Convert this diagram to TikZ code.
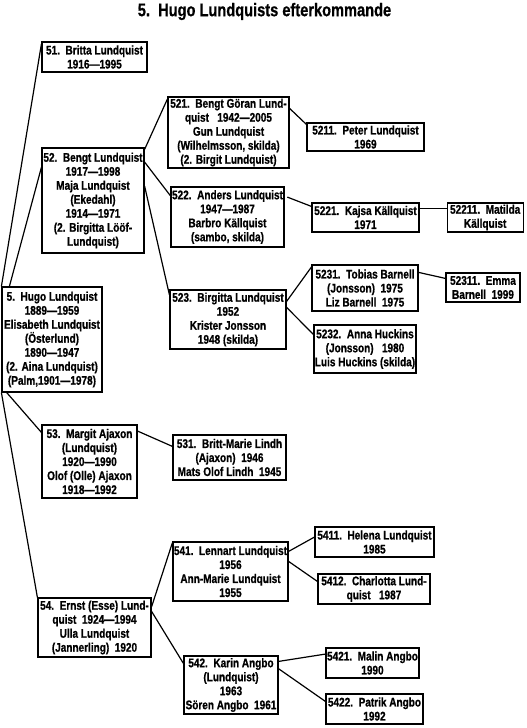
\documentclass[tikz,border=0pt]{standalone}
\usepackage{fontspec}
\setmainfont{Liberation Sans}[FakeStretch=0.8, BoldFeatures={FakeBold=0.8}]
\usepackage{tikz}
\usetikzlibrary{positioning}

\begin{document}
\begin{tikzpicture}[
    x=0.75pt, y=-0.75pt,
    person/.style={rectangle, draw, line width=0.9pt, inner sep=0pt, align=center, font=\bfseries\fontsize{9.4}{10.5}\selectfont},
    boxsize/.style 2 args={minimum width=#1*0.75pt, minimum height=#2*0.75pt},
    link/.style={line width=0.9pt}
]
\useasboundingbox (0,0) rectangle (526,728);

% Title
\node[font=\bfseries\fontsize{13.7}{16}\selectfont] (title) at (264.5,11.5) {5.\ \ Hugo Lundquists efterkommande};

% Hugo and his children
\node[person, boxsize={100}{105}] (p5) at (52,339.5) {5.\ \ Hugo Lundquist\hfill\\1889—1959\\Elisabeth Lundquist\\(Österlund)\\1890—1947\\(2. Aina Lundquist)\hfill\\(Palm,1901—1978)\hfill};
\node[person, boxsize={105}{30}] (p51) at (94.5,57) {51.\ \ Britta Lundquist\\1916—1995};
\node[person, boxsize={102}{105}] (p52) at (93,200.5) {52.\ \ Bengt Lundquist\\1917—1998\\Maja Lundquist\\(Ekedahl)\\1914—1971\\(2. Birgitta Lööf-\\Lundquist)};
\node[person, boxsize={95}{73}] (p53) at (89.5,461.5) {53.\ \ Margit Ajaxon\\(Lundquist)\\1920—1990\\Olof (Olle) Ajaxon\\1918—1992};
\node[person, boxsize={113}{59}] (p54) at (94.5,627.5) {54.\ \ Ernst (Esse) Lund-\\quist\ \ 1924—1994\\Ulla Lundquist\\(Jannerling)\ \ 1920};

% Bengt's branch
\node[person, boxsize={121}{71}] (p521) at (228.5,132.5) {521.\ \ Bengt Göran Lund-\\quist\ \ \ 1942—2005\\Gun Lundquist\\(Wilhelmsson, skilda)\\(2. Birgit Lundquist)};
\node[person, boxsize={113}{60}] (p522) at (227.5,217) {522.\ \ Anders Lundquist\\1947—1987\\Barbro Källquist\\(sambo, skilda)};
\node[person, boxsize={116}{59}] (p523) at (228,319.5) {523.\ \ Birgitta Lundquist\\1952\\Krister Jonsson\\1948 (skilda)};
\node[person, boxsize={117}{28}] (p5211) at (365.5,137) {5211.\ \ Peter Lundquist\\1969};
\node[person, boxsize={107}{29}] (p5221) at (365.5,217.5) {5221.\ \ Kajsa Källquist\\1971};
\node[person, boxsize={76}{29}, right=20.25pt of p5221] (p52211) {52211.\ \ Matilda\\Källquist};
\node[person, boxsize={106}{46}] (p5231) at (365,288) {5231.\ \ Tobias Barnell\\(Jonsson)\ \ 1975\\Liz Barnell\ \ 1975};
\node[person, boxsize={74}{29}] (p52311) at (483,287.5) {52311.\ \ Emma\\Barnell\ \ 1999};
\node[person, boxsize={102}{48}] (p5232) at (365,349) {5232.\ \ Anna Huckins\\(Jonsson)\ \ \ 1980\\Luis Huckins (skilda)};

% Margit's branch
\node[person, boxsize={113}{45}] (p531) at (229.5,457.5) {531.\ \ Britt-Marie Lindh\\(Ajaxon)\ \ 1946\\Mats Olof Lindh\ \ 1945};

% Ernst's branch
\node[person, boxsize={115}{59}] (p541) at (230.5,571.5) {541.\ \ Lennart Lundquist\\1956\\Ann-Marie Lundquist\\1955};
\node[person, boxsize={94}{58}] (p542) at (231,685) {542.\ \ Karin Angbo\\(Lundquist)\\1963\\Sören Angbo\ \ 1961};
\node[person, boxsize={119}{30}] (p5411) at (374.5,542) {5411.\ \ Helena Lundquist\\1985};
\node[person, boxsize={112}{30}] (p5412) at (374,589) {5412.\ \ Charlotta Lund-\\quist\ \ \ 1987};
\node[person, boxsize={93}{30}] (p5421) at (372.5,663) {5421.\ \ Malin Angbo\\1990};
\node[person, boxsize={97}{30}] (p5422) at (374.5,709) {5422.\ \ Patrik Angbo\\1992};

% Lines
\draw[link] (p5.north west) -- ([yshift=-2pt]p51.north west);
\draw[link] ([xshift=6pt]p5.north west) -- ([yshift=-15pt]p52.north west);
\draw[link] ([xshift=4pt]p5.south west) -- ([yshift=-6pt]p53.north west);
\draw[link] (p5.south west) -- (p54.north west);
\draw[link] ([yshift=-1.5pt]p52.north east) -- ([yshift=-2pt]p521.north west);
\draw[link] ([yshift=-11pt]p52.north east) -- ([yshift=-7pt]p522.north west);
\draw[link] ([yshift=-29pt]p52.north east) -- ([yshift=-4pt]p523.north west);
\draw[link] ([yshift=-9pt]p521.north east) -- ([yshift=-1.5pt]p5211.north west);
\draw[link] ([xshift=2pt,yshift=-8pt]p522.north east) -- ([yshift=-3pt]p5221.north west);
\draw[link] ([yshift=-4.5pt]p5221.north east) -- ([yshift=-4.5pt]p52211.north west);
\draw[link] ([yshift=-9pt]p523.north east) -- ([yshift=-2pt]p5231.north west);
\draw[link] ([yshift=-13.5pt]p523.north east) -- ([yshift=-7.5pt]p5232.north west);
\draw[link] ([yshift=-6pt]p5231.north east) -- ([yshift=-4.5pt]p52311.north west);
\draw[link] ([yshift=-5pt]p53.north east) -- ([yshift=-9pt]p531.north west);
\draw[link] ([yshift=-7pt]p54.north east) -- ([yshift=-1pt]p541.north west);
\draw[link] ([yshift=-10.5pt]p54.north east) -- ([yshift=-6pt]p542.north west);
\draw[link] ([yshift=-7.5pt]p541.north east) -- ([yshift=-8pt]p5411.north west);
\draw[link] ([yshift=-15pt]p541.north east) -- ([yshift=-6pt]p5412.north west);
\draw[link] ([yshift=-4.5pt]p542.north east) -- ([yshift=-5pt]p5421.north west);
\draw[link] ([yshift=-10pt]p542.north east) -- ([yshift=-6pt]p5422.north west);

\end{tikzpicture}
\end{document}
